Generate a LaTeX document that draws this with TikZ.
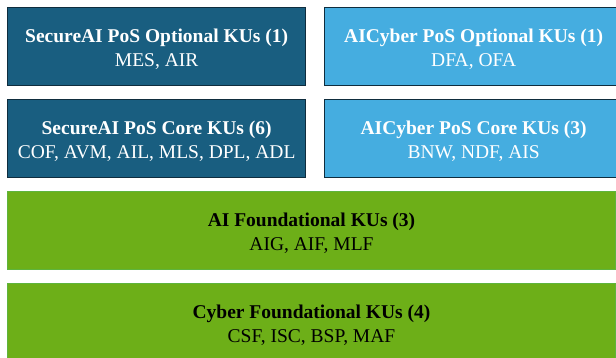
\documentclass[tikz,border=0pt]{standalone}
\usepackage{fontspec}
\setmainfont{Liberation Serif}
\definecolor{darkblue}{HTML}{195E80}
\definecolor{lightblue}{HTML}{45ADE0}
\definecolor{edgeblue}{HTML}{0F2D3E}
\definecolor{leaf}{HTML}{6DAF18}
\definecolor{leafedge}{HTML}{5EB43C}
\begin{document}
\begin{tikzpicture}[x=1pt,y=-1pt,
  box/.style={draw, line width=1.3pt, minimum height=78pt, inner sep=0pt, anchor=north west},
  secure/.style={box, fill=darkblue, draw=edgeblue, minimum width=298pt},
  cyber/.style={box, fill=lightblue, draw=edgeblue, minimum width=298pt},
  found/.style={box, fill=leaf, draw=leafedge, line width=1pt, minimum width=608pt},
  caption/.style={align=center, inner sep=0pt, yshift=-2.5pt,
    font=\fontsize{19.5}{23.5}\selectfont},
  light/.style={caption, text=white},
  dark/.style={caption, text=black}]
\useasboundingbox (0,0) rectangle (616,358);
\begin{scope}
\clip (0,0) rectangle (616,358);
% knowledge-unit tiers, optional on top, foundational at the base
\node[secure] (sopt) at (7,7) {};
\node[cyber] (copt) at (324,7) {};
\node[secure] (score) at (7,99) {};
\node[cyber] (ccore) at (324,99) {};
\node[found] (aif) at (7,191) {};
\node[found] (cyf) at (7,283) {};
\end{scope}
\node[light] (soptt) at (sopt.center) {\textbf{SecureAI PoS Optional KUs (1)}\\MES, AIR};
\node[light] (coptt) at (copt.center) {\textbf{AICyber PoS Optional KUs (1)}\\DFA, OFA};
\node[light] (scoret) at (score.center) {\textbf{SecureAI PoS Core KUs (6)}\\COF, AVM, AIL, MLS, DPL, ADL};
\node[light] (ccoret) at (ccore.center) {\textbf{AICyber PoS Core KUs (3)}\\BNW, NDF, AIS};
\node[dark] (aift) at (aif.center) {\textbf{AI Foundational KUs (3)}\\AIG, AIF, MLF};
\node[dark] (cyft) at (cyf.center) {\textbf{Cyber Foundational KUs (4)}\\CSF, ISC, BSP, MAF};
\end{tikzpicture}
\end{document}
